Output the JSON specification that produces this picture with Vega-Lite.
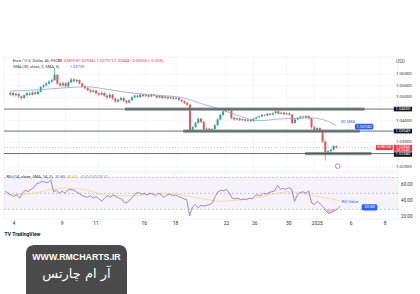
{
  "$schema": "https://vega.github.io/schema/vega-lite/v6.json",
  "background": "white",
  "padding": {"left": 3, "top": 56, "right": 0, "bottom": 0},
  "config": {"view": {"stroke": null}, "font": "Roboto"},
  "datasets": {
    "candles": [
      {"i":0,"o":1.0512,"h":1.0526,"l":1.0508,"c":1.0520},
      {"i":1,"o":1.0520,"h":1.0524,"l":1.0505,"c":1.0510},
      {"i":2,"o":1.0510,"h":1.0521,"l":1.0504,"c":1.0516},
      {"i":3,"o":1.0516,"h":1.0519,"l":1.0499,"c":1.0505},
      {"i":4,"o":1.0505,"h":1.0509,"l":1.0490,"c":1.0498},
      {"i":5,"o":1.0498,"h":1.0514,"l":1.0494,"c":1.0510},
      {"i":6,"o":1.0510,"h":1.0524,"l":1.0506,"c":1.0518},
      {"i":7,"o":1.0518,"h":1.0522,"l":1.0507,"c":1.0512},
      {"i":8,"o":1.0512,"h":1.0527,"l":1.0509,"c":1.0522},
      {"i":9,"o":1.0522,"h":1.0525,"l":1.0510,"c":1.0515},
      {"i":10,"o":1.0515,"h":1.0530,"l":1.0512,"c":1.0525},
      {"i":11,"o":1.0525,"h":1.0550,"l":1.0521,"c":1.0545},
      {"i":12,"o":1.0545,"h":1.0558,"l":1.0540,"c":1.0552},
      {"i":13,"o":1.0552,"h":1.0566,"l":1.0548,"c":1.0560},
      {"i":14,"o":1.0560,"h":1.0575,"l":1.0556,"c":1.0568},
      {"i":15,"o":1.0568,"h":1.0582,"l":1.0563,"c":1.0575},
      {"i":16,"o":1.0575,"h":1.0627,"l":1.0572,"c":1.0598},
      {"i":17,"o":1.0598,"h":1.0602,"l":1.0555,"c":1.0560},
      {"i":18,"o":1.0560,"h":1.0566,"l":1.0546,"c":1.0552},
      {"i":19,"o":1.0552,"h":1.0567,"l":1.0548,"c":1.0562},
      {"i":20,"o":1.0562,"h":1.0565,"l":1.0543,"c":1.0548},
      {"i":21,"o":1.0548,"h":1.0570,"l":1.0545,"c":1.0565},
      {"i":22,"o":1.0565,"h":1.0585,"l":1.0561,"c":1.0578},
      {"i":23,"o":1.0578,"h":1.0582,"l":1.0566,"c":1.0570},
      {"i":24,"o":1.0570,"h":1.0580,"l":1.0565,"c":1.0575},
      {"i":25,"o":1.0575,"h":1.0578,"l":1.0556,"c":1.0560},
      {"i":26,"o":1.0560,"h":1.0563,"l":1.0543,"c":1.0548},
      {"i":27,"o":1.0548,"h":1.0552,"l":1.0535,"c":1.0540},
      {"i":28,"o":1.0540,"h":1.0544,"l":1.0527,"c":1.0532},
      {"i":29,"o":1.0532,"h":1.0536,"l":1.0520,"c":1.0525},
      {"i":30,"o":1.0525,"h":1.0535,"l":1.0521,"c":1.0530},
      {"i":31,"o":1.0530,"h":1.0533,"l":1.0514,"c":1.0518},
      {"i":32,"o":1.0518,"h":1.0522,"l":1.0507,"c":1.0512},
      {"i":33,"o":1.0512,"h":1.0525,"l":1.0509,"c":1.0520},
      {"i":34,"o":1.0520,"h":1.0523,"l":1.0503,"c":1.0508},
      {"i":35,"o":1.0508,"h":1.0512,"l":1.0495,"c":1.0500},
      {"i":36,"o":1.0500,"h":1.0517,"l":1.0497,"c":1.0512},
      {"i":37,"o":1.0512,"h":1.0515,"l":1.0490,"c":1.0495},
      {"i":38,"o":1.0495,"h":1.0499,"l":1.0477,"c":1.0482},
      {"i":39,"o":1.0482,"h":1.0495,"l":1.0478,"c":1.0490},
      {"i":40,"o":1.0490,"h":1.0503,"l":1.0486,"c":1.0498},
      {"i":41,"o":1.0498,"h":1.0501,"l":1.0480,"c":1.0485},
      {"i":42,"o":1.0485,"h":1.0489,"l":1.0472,"c":1.0478},
      {"i":43,"o":1.0478,"h":1.0492,"l":1.0474,"c":1.0488},
      {"i":44,"o":1.0488,"h":1.0505,"l":1.0485,"c":1.0500},
      {"i":45,"o":1.0500,"h":1.0513,"l":1.0496,"c":1.0508},
      {"i":46,"o":1.0508,"h":1.0512,"l":1.0498,"c":1.0502},
      {"i":47,"o":1.0502,"h":1.0517,"l":1.0499,"c":1.0512},
      {"i":48,"o":1.0512,"h":1.0515,"l":1.0502,"c":1.0506},
      {"i":49,"o":1.0506,"h":1.0514,"l":1.0502,"c":1.0510},
      {"i":50,"o":1.0510,"h":1.0513,"l":1.0500,"c":1.0504},
      {"i":51,"o":1.0504,"h":1.0516,"l":1.0501,"c":1.0512},
      {"i":52,"o":1.0512,"h":1.0515,"l":1.0504,"c":1.0508},
      {"i":53,"o":1.0508,"h":1.0511,"l":1.0496,"c":1.0500},
      {"i":54,"o":1.0500,"h":1.0510,"l":1.0497,"c":1.0506},
      {"i":55,"o":1.0506,"h":1.0509,"l":1.0494,"c":1.0498},
      {"i":56,"o":1.0498,"h":1.0507,"l":1.0495,"c":1.0503},
      {"i":57,"o":1.0503,"h":1.0506,"l":1.0492,"c":1.0496},
      {"i":58,"o":1.0496,"h":1.0504,"l":1.0493,"c":1.0500},
      {"i":59,"o":1.0500,"h":1.0503,"l":1.0490,"c":1.0494},
      {"i":60,"o":1.0494,"h":1.0502,"l":1.0491,"c":1.0498},
      {"i":61,"o":1.0498,"h":1.0501,"l":1.0486,"c":1.0490},
      {"i":62,"o":1.0490,"h":1.0494,"l":1.0480,"c":1.0484},
      {"i":63,"o":1.0484,"h":1.0488,"l":1.0471,"c":1.0476},
      {"i":64,"o":1.0476,"h":1.0480,"l":1.0463,"c":1.0468},
      {"i":65,"o":1.0468,"h":1.0472,"l":1.0352,"c":1.0358},
      {"i":66,"o":1.0358,"h":1.0377,"l":1.0353,"c":1.0372},
      {"i":67,"o":1.0372,"h":1.0395,"l":1.0368,"c":1.0390},
      {"i":68,"o":1.0390,"h":1.0414,"l":1.0386,"c":1.0408},
      {"i":69,"o":1.0408,"h":1.0412,"l":1.0390,"c":1.0395},
      {"i":70,"o":1.0395,"h":1.0398,"l":1.0356,"c":1.0362},
      {"i":71,"o":1.0362,"h":1.0371,"l":1.0356,"c":1.0366},
      {"i":72,"o":1.0366,"h":1.0370,"l":1.0355,"c":1.0360},
      {"i":73,"o":1.0360,"h":1.0368,"l":1.0356,"c":1.0364},
      {"i":74,"o":1.0364,"h":1.0385,"l":1.0360,"c":1.0380},
      {"i":75,"o":1.0380,"h":1.0410,"l":1.0377,"c":1.0405},
      {"i":76,"o":1.0405,"h":1.0430,"l":1.0401,"c":1.0425},
      {"i":77,"o":1.0425,"h":1.0446,"l":1.0421,"c":1.0440},
      {"i":78,"o":1.0440,"h":1.0456,"l":1.0436,"c":1.0450},
      {"i":79,"o":1.0450,"h":1.0455,"l":1.0440,"c":1.0445},
      {"i":80,"o":1.0445,"h":1.0448,"l":1.0406,"c":1.0412},
      {"i":81,"o":1.0412,"h":1.0416,"l":1.0400,"c":1.0405},
      {"i":82,"o":1.0405,"h":1.0414,"l":1.0401,"c":1.0410},
      {"i":83,"o":1.0410,"h":1.0413,"l":1.0398,"c":1.0402},
      {"i":84,"o":1.0402,"h":1.0410,"l":1.0399,"c":1.0406},
      {"i":85,"o":1.0406,"h":1.0409,"l":1.0396,"c":1.0400},
      {"i":86,"o":1.0400,"h":1.0408,"l":1.0397,"c":1.0404},
      {"i":87,"o":1.0404,"h":1.0407,"l":1.0394,"c":1.0398},
      {"i":88,"o":1.0398,"h":1.0412,"l":1.0395,"c":1.0408},
      {"i":89,"o":1.0408,"h":1.0418,"l":1.0405,"c":1.0414},
      {"i":90,"o":1.0414,"h":1.0422,"l":1.0411,"c":1.0418},
      {"i":91,"o":1.0418,"h":1.0429,"l":1.0415,"c":1.0425},
      {"i":92,"o":1.0425,"h":1.0428,"l":1.0418,"c":1.0422},
      {"i":93,"o":1.0422,"h":1.0434,"l":1.0419,"c":1.0430},
      {"i":94,"o":1.0430,"h":1.0433,"l":1.0422,"c":1.0426},
      {"i":95,"o":1.0426,"h":1.0436,"l":1.0423,"c":1.0432},
      {"i":96,"o":1.0432,"h":1.0446,"l":1.0429,"c":1.0440},
      {"i":97,"o":1.0440,"h":1.0443,"l":1.0426,"c":1.0430},
      {"i":98,"o":1.0430,"h":1.0438,"l":1.0427,"c":1.0434},
      {"i":99,"o":1.0434,"h":1.0437,"l":1.0424,"c":1.0428},
      {"i":100,"o":1.0428,"h":1.0436,"l":1.0425,"c":1.0432},
      {"i":101,"o":1.0432,"h":1.0435,"l":1.0422,"c":1.0426},
      {"i":102,"o":1.0426,"h":1.0429,"l":1.0384,"c":1.0390},
      {"i":103,"o":1.0390,"h":1.0409,"l":1.0387,"c":1.0405},
      {"i":104,"o":1.0405,"h":1.0416,"l":1.0402,"c":1.0412},
      {"i":105,"o":1.0412,"h":1.0422,"l":1.0409,"c":1.0418},
      {"i":106,"o":1.0418,"h":1.0421,"l":1.0410,"c":1.0414},
      {"i":107,"o":1.0414,"h":1.0424,"l":1.0411,"c":1.0420},
      {"i":108,"o":1.0420,"h":1.0423,"l":1.0406,"c":1.0410},
      {"i":109,"o":1.0410,"h":1.0413,"l":1.0366,"c":1.0372},
      {"i":110,"o":1.0372,"h":1.0376,"l":1.0354,"c":1.0360},
      {"i":111,"o":1.0360,"h":1.0372,"l":1.0356,"c":1.0368},
      {"i":112,"o":1.0368,"h":1.0371,"l":1.0351,"c":1.0356},
      {"i":113,"o":1.0356,"h":1.0359,"l":1.0304,"c":1.0310},
      {"i":114,"o":1.0310,"h":1.0313,"l":1.0228,"c":1.0262},
      {"i":115,"o":1.0262,"h":1.0273,"l":1.0256,"c":1.0268},
      {"i":116,"o":1.0268,"h":1.0279,"l":1.0264,"c":1.0275},
      {"i":117,"o":1.0275,"h":1.0294,"l":1.0271,"c":1.02899},
      {"i":118,"o":1.02899,"h":1.02934,"l":1.02797,"c":1.02844}
    ],
    "sma": [
      {"i":0,"v":1.0528},{"i":10,"v":1.0533},{"i":20,"v":1.0542},{"i":28,"v":1.0546},
      {"i":35,"v":1.0535},{"i":45,"v":1.0518},{"i":55,"v":1.0508},{"i":62,"v":1.0500},
      {"i":70,"v":1.0470},{"i":76,"v":1.0449},{"i":83,"v":1.0420},{"i":90,"v":1.0400},
      {"i":97,"v":1.0407},{"i":104,"v":1.0410},{"i":108,"v":1.0412},{"i":113,"v":1.0405},
      {"i":118,"v":1.0378}
    ],
    "levels": [
      {"p":1.045,"from":41.5,"to":128.2},
      {"p":1.03549,"from":62.6,"to":126.5},
      {"p":1.0258,"from":106.7,"to":130.7}
    ],
    "tags": [
      {"p":1.045,"label":"1.04500"},
      {"p":1.03549,"label":"1.03549"},
      {"p":1.0254,"label":"1.02580"}
    ],
    "priceTicks": [
      {"p":1.06,"t":"1.06000"},{"p":1.055,"t":"1.05500"},{"p":1.05,"t":"1.05000"},
      {"p":1.04,"t":"1.04000"},{"p":1.0306,"t":"1.03000"},{"p":1.02,"t":"1.02000"}
    ],
    "rsiTicks": [
      {"v":60,"t":"60.00"},{"v":40,"t":"40.00"},{"v":20,"t":"20.00"}
    ],
    "dateTicks": [
      {"i":3,"t":"4"},{"i":20,"t":"9"},{"i":32,"t":"11"},{"i":49,"t":"16"},{"i":60,"t":"18"},
      {"i":78,"t":"22"},{"i":88,"t":"26"},{"i":100,"t":"30"},{"i":110,"t":"2025"},{"i":122,"t":"6"},{"i":134,"t":"8"}
    ],
    "rsi": [
      {"i":0,"r":52.5},{"i":1,"r":50},{"i":2,"r":48},{"i":3,"r":46},{"i":4,"r":48},{"i":5,"r":44},
      {"i":6,"r":50},{"i":7,"r":54},{"i":8,"r":52},{"i":9,"r":55},{"i":10,"r":57},{"i":11,"r":62},
      {"i":12,"r":63},{"i":13,"r":65},{"i":14,"r":64},{"i":15,"r":63},{"i":16,"r":67},{"i":17,"r":52},
      {"i":18,"r":54},{"i":19,"r":50},{"i":20,"r":53},{"i":21,"r":50},{"i":22,"r":54},{"i":23,"r":55},
      {"i":24,"r":54},{"i":25,"r":52},{"i":26,"r":50},{"i":27,"r":47},{"i":28,"r":46},{"i":29,"r":45},
      {"i":30,"r":47},{"i":31,"r":44},{"i":32,"r":46},{"i":33,"r":43},{"i":34,"r":40},{"i":35,"r":44},
      {"i":36,"r":47},{"i":37,"r":45},{"i":38,"r":48},{"i":39,"r":46},{"i":40,"r":44},{"i":41,"r":43},
      {"i":42,"r":38},{"i":43,"r":39},{"i":44,"r":42},{"i":45,"r":46},{"i":46,"r":50},{"i":47,"r":51},
      {"i":48,"r":49},{"i":49,"r":50},{"i":50,"r":48},{"i":51,"r":50},{"i":52,"r":49},{"i":53,"r":47},
      {"i":54,"r":50},{"i":55,"r":48},{"i":56,"r":45},{"i":57,"r":48},{"i":58,"r":49},{"i":59,"r":47},
      {"i":60,"r":48},{"i":61,"r":46},{"i":62,"r":45},{"i":63,"r":43},{"i":64,"r":42},{"i":65,"r":22},
      {"i":66,"r":33},{"i":67,"r":36},{"i":68,"r":32},{"i":69,"r":35},{"i":70,"r":34},{"i":71,"r":35},
      {"i":72,"r":36},{"i":73,"r":38},{"i":74,"r":46},{"i":75,"r":52},{"i":76,"r":54},{"i":77,"r":53},
      {"i":78,"r":55},{"i":79,"r":50},{"i":80,"r":44},{"i":81,"r":43},{"i":82,"r":44},{"i":83,"r":42},
      {"i":84,"r":43},{"i":85,"r":42},{"i":86,"r":44},{"i":87,"r":43},{"i":88,"r":47},{"i":89,"r":48},
      {"i":90,"r":47},{"i":91,"r":50},{"i":92,"r":49},{"i":93,"r":51},{"i":94,"r":52},{"i":95,"r":53},
      {"i":96,"r":60},{"i":97,"r":55},{"i":98,"r":56},{"i":99,"r":55},{"i":100,"r":57},{"i":101,"r":55},
      {"i":102,"r":40},{"i":103,"r":48},{"i":104,"r":51},{"i":105,"r":52},{"i":106,"r":50},{"i":107,"r":53},
      {"i":108,"r":38},{"i":109,"r":36},{"i":110,"r":40},{"i":111,"r":37},{"i":112,"r":33.5},{"i":113,"r":28},
      {"i":114,"r":25},{"i":115,"r":26},{"i":116,"r":28},{"i":117,"r":30},{"i":118,"r":33.8}
    ],
    "rsima": [
      {"i":0,"v":48},{"i":10,"v":50},{"i":15,"v":54},{"i":20,"v":56.6},{"i":25,"v":56},{"i":30,"v":53},
      {"i":35,"v":48},{"i":45,"v":47},{"i":55,"v":50},{"i":62,"v":48},{"i":65,"v":46},{"i":70,"v":43},
      {"i":76,"v":40},{"i":80,"v":41},{"i":88,"v":44},{"i":96,"v":50},{"i":100,"v":52},{"i":105,"v":50},
      {"i":110,"v":46},{"i":115,"v":43},{"i":118,"v":40.65}
    ]
  },
  "vconcat": [
    {
      "vconcat": [
        {
          "width": 394,
          "height": 114,
          "view": {"stroke": "#e6e8ee", "strokeWidth": 0.6},
          "layer": [
            {
              "data": {"name": "dateTicks"},
              "mark": {"type": "rule", "color": "#f0f2f7", "strokeWidth": 0.6},
              "encoding": {
                "x": {"field": "i", "type": "quantitative", "scale": {"domain": [-0.5, 138.5], "nice": false, "zero": false}, "axis": null}
              }
            },
            {
              "data": {"name": "priceTicks"},
              "mark": {"type": "rule", "color": "#f0f2f7", "strokeWidth": 0.6},
              "encoding": {
                "y": {"field": "p", "type": "quantitative", "scale": {"domain": [1.01828, 1.06746], "nice": false, "zero": false}, "axis": null}
              }
            },
            {
              "data": {"name": "candles"},
              "mark": {"type": "rule", "strokeWidth": 0.7},
              "encoding": {
                "x": {"field": "i", "type": "quantitative", "scale": {"domain": [-0.5, 138.5], "nice": false, "zero": false}, "axis": null},
                "y": {"field": "l", "type": "quantitative", "scale": {"domain": [1.01828, 1.06746], "nice": false, "zero": false}, "axis": null},
                "y2": {"field": "h"},
                "color": {"condition": {"test": "datum.c >= datum.o", "value": "#26a69a"}, "value": "#ef5350"}
              }
            },
            {
              "data": {"name": "candles"},
              "mark": {"type": "bar", "size": 2},
              "encoding": {
                "x": {"field": "i", "type": "quantitative", "scale": {"domain": [-0.5, 138.5], "nice": false, "zero": false}, "axis": null},
                "y": {"field": "o", "type": "quantitative", "scale": {"domain": [1.01828, 1.06746], "nice": false, "zero": false}, "axis": null},
                "y2": {"field": "c"},
                "color": {"condition": {"test": "datum.c >= datum.o", "value": "#26a69a"}, "value": "#ef5350"}
              }
            },
            {
              "data": {"name": "sma"},
              "mark": {"type": "line", "color": "#8ea3e2", "strokeWidth": 0.8, "interpolate": "monotone"},
              "encoding": {
                "x": {"field": "i", "type": "quantitative", "scale": {"domain": [-0.5, 138.5], "nice": false, "zero": false}, "axis": null},
                "y": {"field": "v", "type": "quantitative", "scale": {"domain": [1.01828, 1.06746], "nice": false, "zero": false}, "axis": null}
              }
            },
            {
              "data": {"name": "levels"},
              "mark": {"type": "rule", "color": "#80918b", "strokeWidth": 3.2, "opacity": 0.9},
              "encoding": {
                "x": {"field": "from", "type": "quantitative", "scale": {"domain": [-0.5, 138.5], "nice": false, "zero": false}, "axis": null},
                "x2": {"field": "to"},
                "y": {"field": "p", "type": "quantitative", "scale": {"domain": [1.01828, 1.06746], "nice": false, "zero": false}, "axis": null}
              }
            },
            {
              "data": {"name": "levels"},
              "mark": {"type": "rule", "color": "#2a2e39", "strokeWidth": 0.7},
              "encoding": {
                "y": {"field": "p", "type": "quantitative", "scale": {"domain": [1.01828, 1.06746], "nice": false, "zero": false}, "axis": null}
              }
            },
            {
              "data": {"values": [{}]},
              "mark": {"type": "rule", "color": "#f23645", "strokeWidth": 0.5, "strokeDash": [1, 2], "opacity": 0.7},
              "encoding": {
                "y": {"datum": 1.02844, "type": "quantitative", "scale": {"domain": [1.01828, 1.06746], "nice": false, "zero": false}, "axis": null}
              }
            },
            {
              "data": {"name": "priceTicks"},
              "mark": {"type": "text", "color": "#333", "fontSize": 4.3, "align": "left", "clip": false},
              "encoding": {
                "x": {"datum": 139.6, "type": "quantitative", "scale": {"domain": [-0.5, 138.5], "nice": false, "zero": false}, "axis": null},
                "y": {"field": "p", "type": "quantitative", "scale": {"domain": [1.01828, 1.06746], "nice": false, "zero": false}, "axis": null},
                "text": {"field": "t"}
              }
            },
            {
              "data": {"values": [{}]},
              "mark": {"type": "text", "text": "USD", "color": "#555", "fontSize": 4.5, "align": "left", "clip": false},
              "encoding": {
                "x": {"datum": 139.6, "type": "quantitative", "scale": {"domain": [-0.5, 138.5], "nice": false, "zero": false}, "axis": null},
                "y": {"datum": 1.06531, "type": "quantitative", "scale": {"domain": [1.01828, 1.06746], "nice": false, "zero": false}, "axis": null}
              }
            },
            {
              "data": {"name": "tags"},
              "mark": {"type": "rule", "color": "#131722", "strokeWidth": 4.6, "clip": false},
              "encoding": {
                "x": {"datum": 138.8, "type": "quantitative", "scale": {"domain": [-0.5, 138.5], "nice": false, "zero": false}, "axis": null},
                "x2": {"datum": 145.4},
                "y": {"field": "p", "type": "quantitative", "scale": {"domain": [1.01828, 1.06746], "nice": false, "zero": false}, "axis": null}
              }
            },
            {
              "data": {"name": "tags"},
              "mark": {"type": "text", "color": "white", "fontSize": 4.1, "clip": false},
              "encoding": {
                "x": {"datum": 142.1, "type": "quantitative", "scale": {"domain": [-0.5, 138.5], "nice": false, "zero": false}, "axis": null},
                "y": {"field": "p", "type": "quantitative", "scale": {"domain": [1.01828, 1.06746], "nice": false, "zero": false}, "axis": null},
                "text": {"field": "label"}
              }
            },
            {
              "data": {"values": [{}]},
              "mark": {"type": "rule", "color": "#f23645", "strokeWidth": 5, "clip": false},
              "encoding": {
                "x": {"datum": 132.3, "type": "quantitative", "scale": {"domain": [-0.5, 138.5], "nice": false, "zero": false}, "axis": null},
                "x2": {"datum": 138.4},
                "y": {"datum": 1.02844, "type": "quantitative", "scale": {"domain": [1.01828, 1.06746], "nice": false, "zero": false}, "axis": null}
              }
            },
            {
              "data": {"values": [{}]},
              "mark": {"type": "rect", "color": "#f23645", "clip": false},
              "encoding": {
                "x": {"datum": 138.8, "type": "quantitative", "scale": {"domain": [-0.5, 138.5], "nice": false, "zero": false}, "axis": null},
                "x2": {"datum": 145.4},
                "y": {"datum": 1.02955, "type": "quantitative", "scale": {"domain": [1.01828, 1.06746], "nice": false, "zero": false}, "axis": null},
                "y2": {"datum": 1.0266}
              }
            },
            {
              "data": {"values": [{}]},
              "mark": {"type": "text", "text": "EURUSD", "color": "white", "fontSize": 3.8, "clip": false},
              "encoding": {
                "x": {"datum": 135.35, "type": "quantitative", "scale": {"domain": [-0.5, 138.5], "nice": false, "zero": false}, "axis": null},
                "y": {"datum": 1.02844, "type": "quantitative", "scale": {"domain": [1.01828, 1.06746], "nice": false, "zero": false}, "axis": null}
              }
            },
            {
              "data": {"values": [{}]},
              "mark": {"type": "text", "text": "1.02844", "color": "white", "fontSize": 3.8, "clip": false},
              "encoding": {
                "x": {"datum": 142.1, "type": "quantitative", "scale": {"domain": [-0.5, 138.5], "nice": false, "zero": false}, "axis": null},
                "y": {"datum": 1.02873, "type": "quantitative", "scale": {"domain": [1.01828, 1.06746], "nice": false, "zero": false}, "axis": null}
              }
            },
            {
              "data": {"values": [{}]},
              "mark": {"type": "text", "text": "03:25:43", "color": "white", "fontSize": 3.4, "clip": false},
              "encoding": {
                "x": {"datum": 142.1, "type": "quantitative", "scale": {"domain": [-0.5, 138.5], "nice": false, "zero": false}, "axis": null},
                "y": {"datum": 1.02738, "type": "quantitative", "scale": {"domain": [1.01828, 1.06746], "nice": false, "zero": false}, "axis": null}
              }
            },
            {
              "data": {"values": [{}]},
              "mark": {"type": "rect", "color": "#2962ff", "cornerRadius": 1.5, "clip": false},
              "encoding": {
                "x": {"datum": 124.7, "type": "quantitative", "scale": {"domain": [-0.5, 138.5], "nice": false, "zero": false}, "axis": null},
                "x2": {"datum": 131.4},
                "y": {"datum": 1.03862, "type": "quantitative", "scale": {"domain": [1.01828, 1.06746], "nice": false, "zero": false}, "axis": null},
                "y2": {"datum": 1.03622}
              }
            },
            {
              "data": {"values": [{}]},
              "mark": {"type": "text", "text": "1.03742", "color": "white", "fontSize": 4.2, "clip": false},
              "encoding": {
                "x": {"datum": 128.05, "type": "quantitative", "scale": {"domain": [-0.5, 138.5], "nice": false, "zero": false}, "axis": null},
                "y": {"datum": 1.03742, "type": "quantitative", "scale": {"domain": [1.01828, 1.06746], "nice": false, "zero": false}, "axis": null}
              }
            },
            {
              "data": {"values": [{}]},
              "mark": {"type": "text", "text": "30-SMA", "color": "#2962ff", "fontSize": 4, "align": "left"},
              "encoding": {
                "x": {"datum": 119.6, "type": "quantitative", "scale": {"domain": [-0.5, 138.5], "nice": false, "zero": false}, "axis": null},
                "y": {"datum": 1.03942, "type": "quantitative", "scale": {"domain": [1.01828, 1.06746], "nice": false, "zero": false}, "axis": null}
              }
            },
            {
              "data": {"values": [{}]},
              "mark": {"type": "point", "shape": "circle", "size": 22, "color": "#9c27b0", "filled": false, "strokeWidth": 0.8},
              "encoding": {
                "x": {"datum": 118.5, "type": "quantitative", "scale": {"domain": [-0.5, 138.5], "nice": false, "zero": false}, "axis": null},
                "y": {"datum": 1.0204, "type": "quantitative", "scale": {"domain": [1.01828, 1.06746], "nice": false, "zero": false}, "axis": null}
              }
            },
            {
              "data": {"values": [{}]},
              "mark": {"type": "text", "text": "Euro / U.S. Dollar, 4h, FXCM", "color": "#333", "fontSize": 4, "align": "left"},
              "encoding": {
                "x": {"datum": 0.9, "type": "quantitative", "scale": {"domain": [-0.5, 138.5], "nice": false, "zero": false}, "axis": null},
                "y": {"datum": 1.06574, "type": "quantitative", "scale": {"domain": [1.01828, 1.06746], "nice": false, "zero": false}, "axis": null}
              }
            },
            {
              "data": {"values": [{}]},
              "mark": {"type": "text", "text": "O1.02899  H1.02934  L1.02797  C1.02844  −0.00055 (−0.05%)", "color": "#f23645", "fontSize": 4, "align": "left"},
              "encoding": {
                "x": {"datum": 17.1, "type": "quantitative", "scale": {"domain": [-0.5, 138.5], "nice": false, "zero": false}, "axis": null},
                "y": {"datum": 1.06574, "type": "quantitative", "scale": {"domain": [1.01828, 1.06746], "nice": false, "zero": false}, "axis": null}
              }
            },
            {
              "data": {"values": [{}]},
              "mark": {"type": "text", "text": "SMA (30, close, 0, SMA, 5)", "color": "#333", "fontSize": 4, "align": "left"},
              "encoding": {
                "x": {"datum": 0.9, "type": "quantitative", "scale": {"domain": [-0.5, 138.5], "nice": false, "zero": false}, "axis": null},
                "y": {"datum": 1.06328, "type": "quantitative", "scale": {"domain": [1.01828, 1.06746], "nice": false, "zero": false}, "axis": null}
              }
            },
            {
              "data": {"values": [{}]},
              "mark": {"type": "text", "text": "1.03739", "color": "#2962ff", "fontSize": 4, "align": "left"},
              "encoding": {
                "x": {"datum": 21.5, "type": "quantitative", "scale": {"domain": [-0.5, 138.5], "nice": false, "zero": false}, "axis": null},
                "y": {"datum": 1.06328, "type": "quantitative", "scale": {"domain": [1.01828, 1.06746], "nice": false, "zero": false}, "axis": null}
              }
            }
          ]
        },
        {
          "width": 394,
          "height": 46,
          "view": {"stroke": "#e6e8ee", "strokeWidth": 0.6},
          "layer": [
            {
              "data": {"values": [{}]},
              "mark": {"type": "rect", "color": "#7e57c2", "opacity": 0.08},
              "encoding": {
                "y": {"datum": 70, "type": "quantitative", "scale": {"domain": [17.9, 75.4], "nice": false, "zero": false}, "axis": null},
                "y2": {"datum": 30}
              }
            },
            {
              "data": {"name": "dateTicks"},
              "mark": {"type": "rule", "color": "#f0f2f7", "strokeWidth": 0.6},
              "encoding": {
                "x": {"field": "i", "type": "quantitative", "scale": {"domain": [-0.5, 138.5], "nice": false, "zero": false}, "axis": null}
              }
            },
            {
              "data": {"values": [{"v": 70}, {"v": 50}, {"v": 30}]},
              "mark": {"type": "rule", "color": "#9598a1", "strokeWidth": 0.5, "strokeDash": [2, 2]},
              "encoding": {
                "y": {"field": "v", "type": "quantitative", "scale": {"domain": [17.9, 75.4], "nice": false, "zero": false}, "axis": null}
              }
            },
            {
              "data": {"name": "rsi"},
              "transform": [{"filter": "datum.i >= 113 && datum.i <= 117"}],
              "mark": {"type": "area", "color": "#f23645", "opacity": 0.3},
              "encoding": {
                "x": {"field": "i", "type": "quantitative", "scale": {"domain": [-0.5, 138.5], "nice": false, "zero": false}, "axis": null},
                "y": {"field": "r", "type": "quantitative", "scale": {"domain": [17.9, 75.4], "nice": false, "zero": false}, "axis": null},
                "y2": {"datum": 30}
              }
            },
            {
              "data": {"name": "rsima"},
              "mark": {"type": "line", "color": "#f5d97a", "strokeWidth": 0.8, "interpolate": "monotone"},
              "encoding": {
                "x": {"field": "i", "type": "quantitative", "scale": {"domain": [-0.5, 138.5], "nice": false, "zero": false}, "axis": null},
                "y": {"field": "v", "type": "quantitative", "scale": {"domain": [17.9, 75.4], "nice": false, "zero": false}, "axis": null}
              }
            },
            {
              "data": {"name": "rsi"},
              "mark": {"type": "line", "color": "#7e57c2", "strokeWidth": 0.7},
              "encoding": {
                "x": {"field": "i", "type": "quantitative", "scale": {"domain": [-0.5, 138.5], "nice": false, "zero": false}, "axis": null},
                "y": {"field": "r", "type": "quantitative", "scale": {"domain": [17.9, 75.4], "nice": false, "zero": false}, "axis": null}
              }
            },
            {
              "data": {"name": "rsiTicks"},
              "mark": {"type": "text", "color": "#333", "fontSize": 4.5, "align": "left", "clip": false},
              "encoding": {
                "x": {"datum": 139.6, "type": "quantitative", "scale": {"domain": [-0.5, 138.5], "nice": false, "zero": false}, "axis": null},
                "y": {"field": "v", "type": "quantitative", "scale": {"domain": [17.9, 75.4], "nice": false, "zero": false}, "axis": null},
                "text": {"field": "t"}
              }
            },
            {
              "data": {"name": "dateTicks"},
              "mark": {"type": "text", "color": "#333", "fontSize": 5, "clip": false},
              "encoding": {
                "x": {"field": "i", "type": "quantitative", "scale": {"domain": [-0.5, 138.5], "nice": false, "zero": false}, "axis": null},
                "y": {"datum": 13.2, "type": "quantitative", "scale": {"domain": [17.9, 75.4], "nice": false, "zero": false}, "axis": null},
                "text": {"field": "t"}
              }
            },
            {
              "data": {"values": [{}]},
              "mark": {"type": "text", "text": "TradingView", "color": "#131722", "fontSize": 5, "fontWeight": "bold", "align": "left", "clip": false},
              "encoding": {
                "x": {"datum": 2.4, "type": "quantitative", "scale": {"domain": [-0.5, 138.5], "nice": false, "zero": false}, "axis": null},
                "y": {"datum": -0.5, "type": "quantitative", "scale": {"domain": [17.9, 75.4], "nice": false, "zero": false}, "axis": null}
              }
            },
            {
              "data": {"values": [{}]},
              "mark": {"type": "text", "text": "TV", "color": "#131722", "fontSize": 5, "fontWeight": "bold", "align": "left", "clip": false},
              "encoding": {
                "x": {"datum": -0.3, "type": "quantitative", "scale": {"domain": [-0.5, 138.5], "nice": false, "zero": false}, "axis": null},
                "y": {"datum": -0.5, "type": "quantitative", "scale": {"domain": [17.9, 75.4], "nice": false, "zero": false}, "axis": null}
              }
            },
            {
              "data": {"values": [{}]},
              "mark": {"type": "text", "text": "RSI Value", "color": "#2962ff", "fontSize": 4, "align": "left"},
              "encoding": {
                "x": {"datum": 118.6, "type": "quantitative", "scale": {"domain": [-0.5, 138.5], "nice": false, "zero": false}, "axis": null},
                "y": {"datum": 39.1, "type": "quantitative", "scale": {"domain": [17.9, 75.4], "nice": false, "zero": false}, "axis": null}
              }
            },
            {
              "data": {"values": [{}]},
              "mark": {"type": "rect", "color": "#2962ff", "cornerRadius": 1.5, "clip": false},
              "encoding": {
                "x": {"datum": 125.7, "type": "quantitative", "scale": {"domain": [-0.5, 138.5], "nice": false, "zero": false}, "axis": null},
                "x2": {"datum": 131.2},
                "y": {"datum": 36.4, "type": "quantitative", "scale": {"domain": [17.9, 75.4], "nice": false, "zero": false}, "axis": null},
                "y2": {"datum": 28.4}
              }
            },
            {
              "data": {"values": [{}]},
              "mark": {"type": "text", "text": "33.80", "color": "white", "fontSize": 4.2},
              "encoding": {
                "x": {"datum": 128.45, "type": "quantitative", "scale": {"domain": [-0.5, 138.5], "nice": false, "zero": false}, "axis": null},
                "y": {"datum": 32.4, "type": "quantitative", "scale": {"domain": [17.9, 75.4], "nice": false, "zero": false}, "axis": null}
              }
            },
            {
              "data": {"values": [{}]},
              "mark": {"type": "text", "text": "RSI (14, close, SMA, 14, 2)", "color": "#333", "fontSize": 4, "align": "left"},
              "encoding": {
                "x": {"datum": 0.4, "type": "quantitative", "scale": {"domain": [-0.5, 138.5], "nice": false, "zero": false}, "axis": null},
                "y": {"datum": 70.5, "type": "quantitative", "scale": {"domain": [17.9, 75.4], "nice": false, "zero": false}, "axis": null}
              }
            },
            {
              "data": {"values": [{}]},
              "mark": {"type": "text", "text": "33.80", "color": "#7e57c2", "fontSize": 4, "align": "left"},
              "encoding": {
                "x": {"datum": 17.5, "type": "quantitative", "scale": {"domain": [-0.5, 138.5], "nice": false, "zero": false}, "axis": null},
                "y": {"datum": 70.5, "type": "quantitative", "scale": {"domain": [17.9, 75.4], "nice": false, "zero": false}, "axis": null}
              }
            },
            {
              "data": {"values": [{}]},
              "mark": {"type": "text", "text": "40.65", "color": "#d9b400", "fontSize": 4, "align": "left"},
              "encoding": {
                "x": {"datum": 21.8, "type": "quantitative", "scale": {"domain": [-0.5, 138.5], "nice": false, "zero": false}, "axis": null},
                "y": {"datum": 70.5, "type": "quantitative", "scale": {"domain": [17.9, 75.4], "nice": false, "zero": false}, "axis": null}
              }
            },
            {
              "data": {"values": [{}]},
              "mark": {"type": "text", "text": "∅ ∅ ∅ ∅ ∅ ∅ ∅", "color": "#787b86", "fontSize": 4, "align": "left"},
              "encoding": {
                "x": {"datum": 26.5, "type": "quantitative", "scale": {"domain": [-0.5, 138.5], "nice": false, "zero": false}, "axis": null},
                "y": {"datum": 70.5, "type": "quantitative", "scale": {"domain": [17.9, 75.4], "nice": false, "zero": false}, "axis": null}
              }
            }
          ]
        }
      ],
      "spacing": 0,
      "resolve": {"scale": {"x": "independent", "y": "independent"}}
    },
    {
      "hconcat": [
        {
          "width": 1,
          "height": 1,
          "data": {"values": [{}]},
          "mark": {"type": "text", "text": ""}
        },
        {
          "width": 101,
          "height": 56,
          "view": {"fill": "#4a4a4a", "cornerRadius": 8, "stroke": null},
          "data": {"values": [{"site": "WWW.RMCHARTS.IR", "name": "آر ام چارتس"}]},
          "layer": [
            {
              "mark": {"type": "text", "color": "white", "fontSize": 8.8, "fontWeight": "bold", "font": "Liberation Sans", "dy": -16},
              "encoding": {"text": {"field": "site"}}
            },
            {
              "mark": {"type": "text", "color": "white", "fontSize": 13, "font": "DejaVu Sans", "dy": 1},
              "encoding": {"text": {"field": "name"}}
            }
          ]
        }
      ],
      "spacing": 21
    }
  ],
  "spacing": 1
}
